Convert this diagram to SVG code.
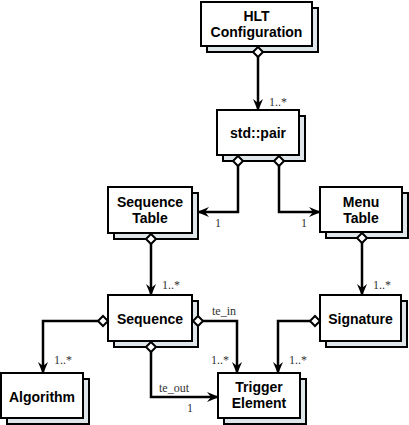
<svg xmlns="http://www.w3.org/2000/svg" width="409" height="425" viewBox="0 0 409 425">
<style>
.sh{fill:#dfe6ea;stroke:#000;stroke-width:2}
.bx{fill:#fff;stroke:#000;stroke-width:2}
.nt{font-family:"Liberation Sans",Arial,sans-serif;font-weight:bold;font-size:14px;text-anchor:middle;fill:#000}
.lb{font-family:"Liberation Serif","Times New Roman",serif;font-size:12px;fill:#333}
.ln{fill:none;stroke:#000;stroke-width:2.5;marker-end:url(#arr)}
.dm{fill:#fff;stroke:#000;stroke-width:2}
</style>
<defs>
<marker id="arr" markerUnits="userSpaceOnUse" viewBox="0 0 12 10" refX="11" refY="5" markerWidth="12" markerHeight="10" orient="auto">
<path d="M0,0 L12,5 L0,10 L4,5 z" fill="#000"/>
</marker>
</defs>
<rect fill="#fff" width="409" height="425"/>
<g id="hlt">
<rect class="sh" x="207" y="8" width="111" height="44"/>
<rect class="bx" x="201" y="2" width="111" height="44"/>
<text class="nt" x="256.5" y="21">HLT</text>
<text class="nt" x="256.5" y="37">Configuration</text>
</g>
<g id="pair">
<rect class="sh" x="223" y="116" width="82" height="45"/>
<rect class="bx" x="217" y="110" width="82" height="45"/>
<text class="nt" x="258" y="138">std::pair</text>
</g>
<g id="seqtable">
<rect class="sh" x="114" y="193" width="84" height="46"/>
<rect class="bx" x="108" y="187" width="84" height="46"/>
<text class="nt" x="150" y="207">Sequence</text>
<text class="nt" x="150" y="223">Table</text>
</g>
<g id="menutable">
<rect class="sh" x="326" y="193" width="82" height="45"/>
<rect class="bx" x="320" y="187" width="82" height="45"/>
<text class="nt" x="361" y="207">Menu</text>
<text class="nt" x="361" y="223">Table</text>
</g>
<g id="sequence">
<rect class="sh" x="114" y="301" width="84" height="46"/>
<rect class="bx" x="108" y="295" width="84" height="46"/>
<text class="nt" x="150" y="324">Sequence</text>
</g>
<g id="signature">
<rect class="sh" x="326" y="301" width="81" height="46"/>
<rect class="bx" x="320" y="295" width="81" height="46"/>
<text class="nt" x="360.5" y="324">Signature</text>
</g>
<g id="algorithm">
<rect class="sh" x="7" y="379" width="82" height="45"/>
<rect class="bx" x="1" y="373" width="82" height="45"/>
<text class="nt" x="42" y="402">Algorithm</text>
</g>
<g id="trigger">
<rect class="sh" x="224" y="379" width="82" height="45"/>
<rect class="bx" x="218" y="373" width="82" height="45"/>
<text class="nt" x="259" y="392">Trigger</text>
<text class="nt" x="259" y="408">Element</text>
</g>
<g id="connectors">
<path class="ln" d="M258,57 V110"/>
<path class="ln" d="M238,166 V212 H198"/>
<path class="ln" d="M279,166 V212 H320"/>
<path class="ln" d="M151,244 V295"/>
<path class="ln" d="M362,243 V295"/>
<path class="ln" d="M98,321 H43 V373"/>
<path class="ln" d="M203,321 H237 V373"/>
<path class="ln" d="M151,352 V397 H218"/>
<path class="ln" d="M310,321 H278 V373"/>
<path class="dm" d="M258,47 L263,52 L258,57 L253,52 z"/>
<path class="dm" d="M238,156 L243,161 L238,166 L233,161 z"/>
<path class="dm" d="M279,156 L284,161 L279,166 L274,161 z"/>
<path class="dm" d="M151,234 L156,239 L151,244 L146,239 z"/>
<path class="dm" d="M362,233 L367,238 L362,243 L357,238 z"/>
<path class="dm" d="M103,316 L108,321 L103,326 L98,321 z"/>
<path class="dm" d="M198,316 L203,321 L198,326 L193,321 z"/>
<path class="dm" d="M151,342 L156,347 L151,352 L146,347 z"/>
<path class="dm" d="M315,316 L320,321 L315,326 L310,321 z"/>
<text class="lb" x="269" y="106">1..*</text>
<text class="lb" x="215" y="227">1</text>
<text class="lb" x="301" y="227">1</text>
<text class="lb" x="162" y="289">1..*</text>
<text class="lb" x="373" y="289">1..*</text>
<text class="lb" x="212" y="315">te_in</text>
<text class="lb" x="54" y="364">1..*</text>
<text class="lb" x="211" y="364">1..*</text>
<text class="lb" x="289" y="364">1..*</text>
<text class="lb" x="159" y="392">te_out</text>
<text class="lb" x="187" y="412">1</text>
</g>
</svg>
